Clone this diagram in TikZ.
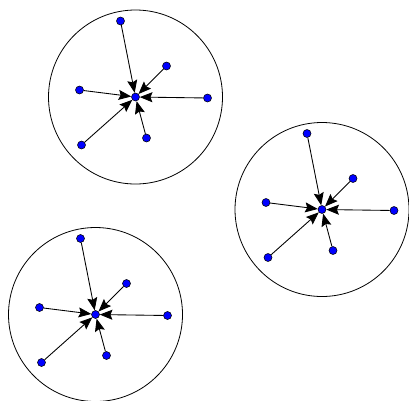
\documentclass[tikz,border=0pt]{standalone}
\usepackage{tikz}
\usetikzlibrary{arrows.meta}

\begin{document}
\begin{tikzpicture}[
  x=0.75pt,
  y=-0.75pt,
  hubring/.style={draw=black, line width=0.6pt},
  dot/.style={circle, fill=blue, draw=black, line width=0.4pt, inner sep=0pt, minimum size=6pt},
  spoke/.style={-{Stealth[length=9.5pt, width=7.5pt, inset=1.5pt]}, line width=0.65pt}
]
\useasboundingbox (0,0) rectangle (409,400);

\foreach \k/\cx/\cy in {1/135.5/97, 2/322/209.5, 3/95.5/314.5} {
  \draw[hubring] (\cx,\cy) circle (65.25pt);
  \node[dot] (hub\k) at (\cx,\cy) {};
  \foreach \j/\dx/\dy in {a/-15/-76, b/31/-31, c/-56/-7, d/72/1, e/-54/48, f/11/41} {
    \node[dot] (leaf\k\j) at (\cx+\dx,\cy+\dy) {};
    \draw[spoke] (leaf\k\j) -- (hub\k);
  }
}
\end{tikzpicture}
\end{document}
